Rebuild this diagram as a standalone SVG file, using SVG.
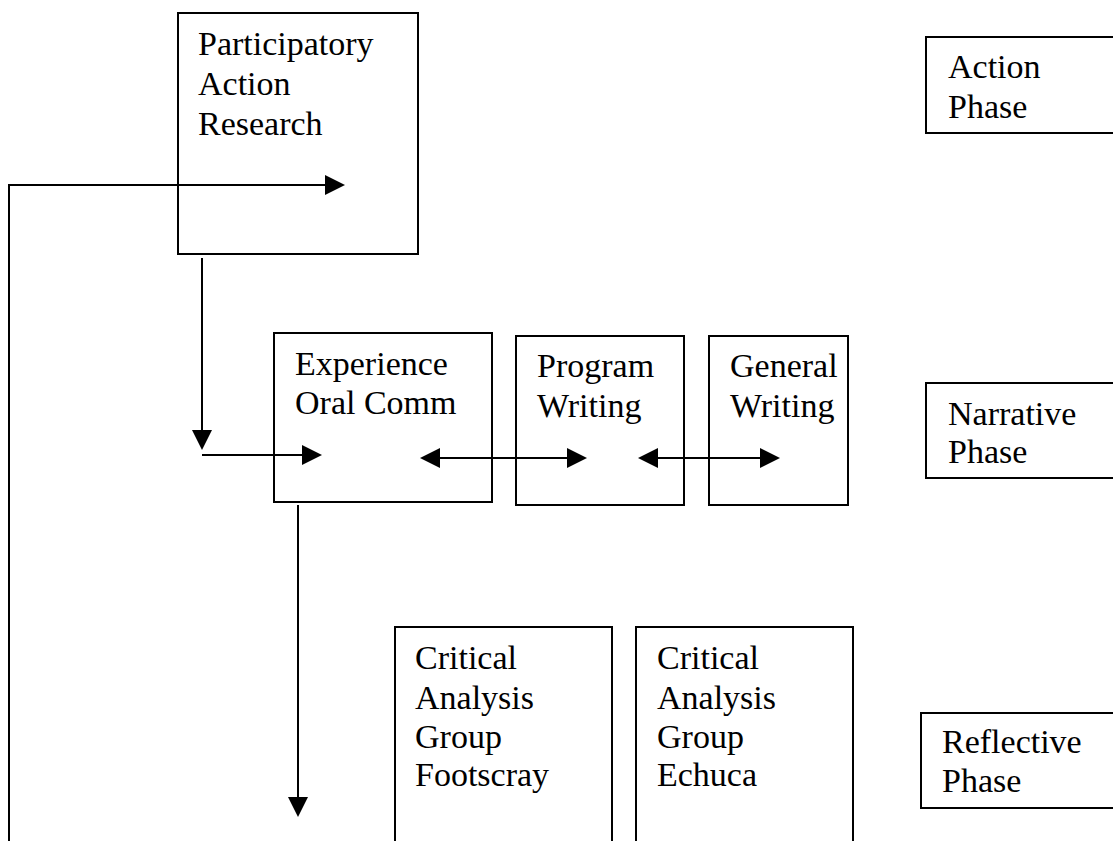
<svg xmlns="http://www.w3.org/2000/svg" width="1113" height="841" viewBox="0 0 1113 841">
<style>
.box{fill:none;stroke:#000;stroke-width:2}
.t{font-family:"Liberation Serif","Times New Roman",serif;font-size:34px;fill:#000}
.c{fill:none;stroke:#000;stroke-width:2}
</style>
<defs>
<marker id="ah" markerUnits="userSpaceOnUse" markerWidth="20" markerHeight="20" refX="10" refY="10" orient="auto-start-reverse">
<path d="M0,0 L20,10 L0,20 Z" fill="#000"/>
</marker>
</defs>
<rect width="1113" height="841" fill="#fff"/>
<g id="par">
<rect class="box" x="178" y="13" width="240" height="241"/>
<text class="t" x="198" y="55">Participatory</text>
<text class="t" x="198" y="95">Action</text>
<text class="t" x="198" y="135">Research</text>
</g>
<g id="action-phase">
<rect class="box" x="926" y="37" width="200" height="96"/>
<text class="t" x="948" y="78">Action</text>
<text class="t" x="948" y="118">Phase</text>
</g>
<g id="experience">
<rect class="box" x="274" y="333" width="218" height="169"/>
<text class="t" x="295" y="375">Experience</text>
<text class="t" x="295" y="414">Oral Comm</text>
</g>
<g id="program">
<rect class="box" x="516" y="336" width="168" height="169"/>
<text class="t" x="537" y="377">Program</text>
<text class="t" x="537" y="417">Writing</text>
</g>
<g id="general">
<rect class="box" x="709" y="336" width="139" height="169"/>
<text class="t" x="730" y="377">General</text>
<text class="t" x="730" y="417">Writing</text>
</g>
<g id="narrative-phase">
<rect class="box" x="926" y="383" width="200" height="95"/>
<text class="t" x="948" y="425">Narrative</text>
<text class="t" x="948" y="463">Phase</text>
</g>
<g id="cag-footscray">
<rect class="box" x="395" y="627" width="217" height="240"/>
<text class="t" x="415" y="669">Critical</text>
<text class="t" x="415" y="709">Analysis</text>
<text class="t" x="415" y="748">Group</text>
<text class="t" x="415" y="786">Footscray</text>
</g>
<g id="cag-echuca">
<rect class="box" x="636" y="627" width="217" height="240"/>
<text class="t" x="657" y="669">Critical</text>
<text class="t" x="657" y="709">Analysis</text>
<text class="t" x="657" y="748">Group</text>
<text class="t" x="657" y="786">Echuca</text>
</g>
<g id="reflective-phase">
<rect class="box" x="921" y="713" width="210" height="95"/>
<text class="t" x="942" y="753">Reflective</text>
<text class="t" x="942" y="792">Phase</text>
</g>
<g id="connectors">
<path class="c" d="M9,841 V185 H335" marker-end="url(#ah)"/>
<path class="c" d="M202,258 V440" marker-end="url(#ah)"/>
<path class="c" d="M202,455 H312" marker-end="url(#ah)"/>
<path class="c" d="M430,458 H577" marker-start="url(#ah)" marker-end="url(#ah)"/>
<path class="c" d="M648,458 H770" marker-start="url(#ah)" marker-end="url(#ah)"/>
<path class="c" d="M298,505 V807" marker-end="url(#ah)"/>
</g>
</svg>
